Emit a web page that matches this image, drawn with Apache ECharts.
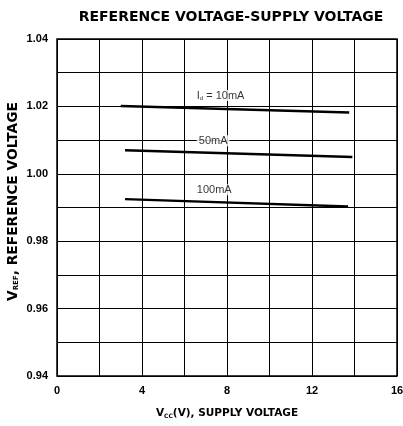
<!DOCTYPE html>
<html><head><meta charset="utf-8">
<script src="https://cdn.jsdelivr.net/npm/echarts@6/dist/echarts.min.js"></script>
<style>html,body{margin:0;padding:0;background:#fff}#c{width:403px;height:426px}</style>
</head><body><div id="c"></div>
<script>
const vcc10 = [3.0, 13.75];
const vref10 = [1.0201, 1.0182];
const vcc50 = [3.2, 13.9];
const vref50 = [1.0070, 1.0050];
const vcc100 = [3.2, 13.7];
const vref100 = [0.9925, 0.9903];
const labelNames = ['{i|I}{s|d}{i| = 10mA}', '50mA', '100mA'];
const labelX = [7.7, 7.35, 7.4];
const labelY = [1.0232, 1.0098, 0.9953];
const xTicks = [0, 4, 8, 12, 16];
const yTicks = [0.94, 0.96, 0.98, 1.00, 1.02, 1.04];

const font = 'Liberation Sans, Arial, sans-serif';
const heavy = 'DejaVu Sans, Liberation Sans, sans-serif';
function pairs(xs, ys){ return xs.map((x,i)=>[x, ys[i]]); }
const lineSeries = [[vcc10,vref10],[vcc50,vref50],[vcc100,vref100]].map(([xs,ys])=>({
  type:'line', data: pairs(xs,ys), symbol:'none', silent:true,
  lineStyle:{color:'#000', width:2.4}
}));
const labelSeries = {
  type:'scatter', symbolSize:0, silent:true, z:5,
  data: labelNames.map((n,i)=>({value:[labelX[i], labelY[i]], name:n})),
  label:{show:true, position:'inside', formatter: p=>p.name, color:'#000',
    fontFamily:font, fontSize:11, backgroundColor:'#fff', padding:[0,2],
    rich:{i:{fontSize:11, fontFamily:font, color:'#000'}, s:{fontSize:6, fontFamily:font, color:'#000', verticalAlign:'bottom', padding:[4,0,0,0]}}}
};
const chart = echarts.init(document.getElementById('c'));
chart.setOption({
  animation:false,
  backgroundColor:'#fff',
  title:{text:'REFERENCE VOLTAGE-SUPPLY VOLTAGE', left:226, textAlign:'center', top:5,
    textStyle:{fontFamily:heavy, fontWeight:'bold', fontSize:14, color:'#000'}},
  grid:{left:57, right:6, top:39, bottom:50, show:true, borderColor:'#000', borderWidth:1.5,
    outerBoundsMode:'none', containLabel:false},
  xAxis:{type:'value', min:0, max:16, interval:2,
    axisLine:{show:false}, axisTick:{show:false},
    splitLine:{show:true, lineStyle:{color:'#000', width:1}},
    axisLabel:{fontFamily:font, fontSize:11, fontWeight:'bold', color:'#000', margin:9,
      formatter:v=> xTicks.includes(v) ? String(v) : ''},
    name:'{v|V}{s|CC}{v|(V), SUPPLY VOLTAGE}', nameLocation:'middle', nameGap:32,
    nameTextStyle:{rich:{v:{fontFamily:heavy, fontSize:10.5, fontWeight:'bold', color:'#000'},
      s:{fontFamily:heavy, fontSize:6, fontWeight:'bold', color:'#000', verticalAlign:'bottom', padding:[4,0,0,0]}}}
  },
  yAxis:{type:'value', min:0.94, max:1.04, interval:0.01,
    axisLine:{show:false}, axisTick:{show:false},
    splitLine:{show:true, lineStyle:{color:'#000', width:1}},
    axisLabel:{fontFamily:font, fontSize:11, fontWeight:'bold', color:'#000', margin:9,
      formatter:v=>{ const t = yTicks.find(y=>Math.abs(y-v)<1e-6); return t!==undefined ? t.toFixed(2) : ''; }},
    name:'{v|V}{s|REF}{v|, REFERENCE VOLTAGE}', nameLocation:'middle', nameGap:37, nameRotate:90,
    nameMoveOverlap:false,
    nameTextStyle:{padding:[0,0,0,12], rich:{v:{fontFamily:heavy, fontSize:13.8, fontWeight:'bold', color:'#000'},
      s:{fontFamily:heavy, fontSize:7, fontWeight:'bold', color:'#000', verticalAlign:'bottom', padding:[5,0,0,0]}}}
  },
  series:[...lineSeries, labelSeries]
});
</script></body></html>
